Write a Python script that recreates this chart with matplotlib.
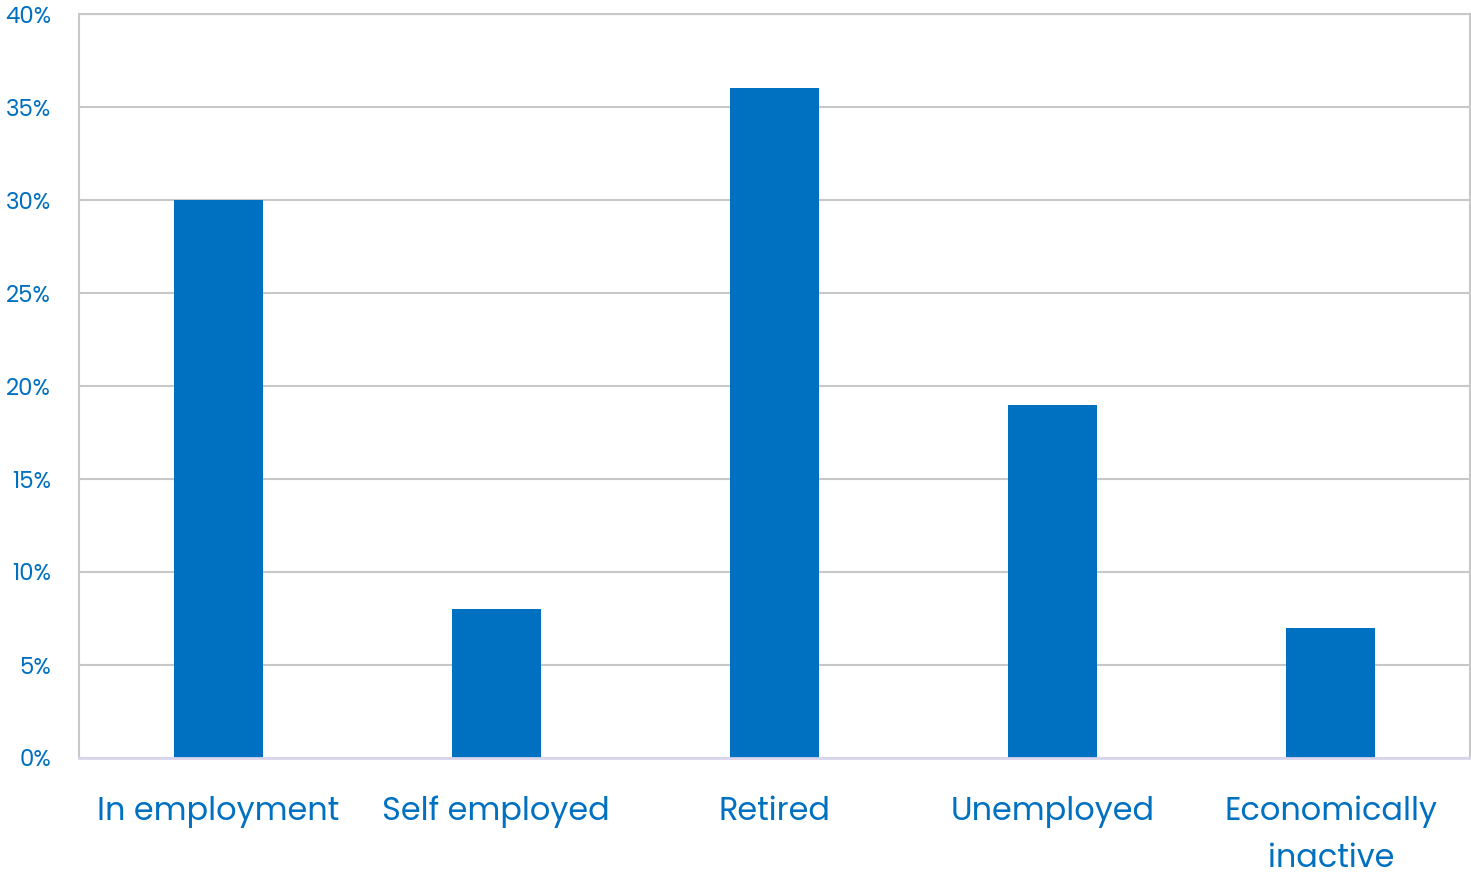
import matplotlib
matplotlib.use("Agg")
import matplotlib.pyplot as plt
from matplotlib.ticker import FuncFormatter

categories = ["In employment", "Self employed", "Retired", "Unemployed", "Economically\ninactive"]
values = [30, 8, 36, 19, 7]
y_ticks = [0, 5, 10, 15, 20, 25, 30, 35, 40]

BLUE = "#0070C0"
GRID = "#C8C8C8"

plt.rcParams["font.family"] = ["Poppins", "Open Sans", "DejaVu Sans"]

fig = plt.figure(figsize=(14.71, 8.72), dpi=100)
ax = fig.add_axes([79 / 1471, 1 - 758 / 872, (1470 - 79) / 1471, (758 - 14) / 872])

x = range(len(categories))
ax.bar(x, values, width=0.32, color=BLUE, zorder=3)

ax.set_xlim(-0.5, len(categories) - 0.5)
ax.set_ylim(0, 40)
ax.set_yticks(y_ticks)
ax.yaxis.set_major_formatter(FuncFormatter(lambda v, _: f"{v:.0f}%"))
ax.set_xticks(list(x))
ax.set_xticklabels(categories, linespacing=1.62)

ax.tick_params(axis="y", length=0, pad=20, labelsize=16.5, labelcolor=BLUE)
ax.tick_params(axis="x", length=0, pad=27, labelsize=23, labelcolor=BLUE)

ax.grid(axis="y", color=GRID, linewidth=1.5, zorder=0)
for side in ("left", "top", "right"):
    ax.spines[side].set_color(GRID)
    ax.spines[side].set_linewidth(1.5)
ax.spines["bottom"].set_color("#D9D5EE")
ax.spines["bottom"].set_linewidth(2)
ax.spines["bottom"].set_zorder(4)

fig.savefig("out.png", dpi=100)
